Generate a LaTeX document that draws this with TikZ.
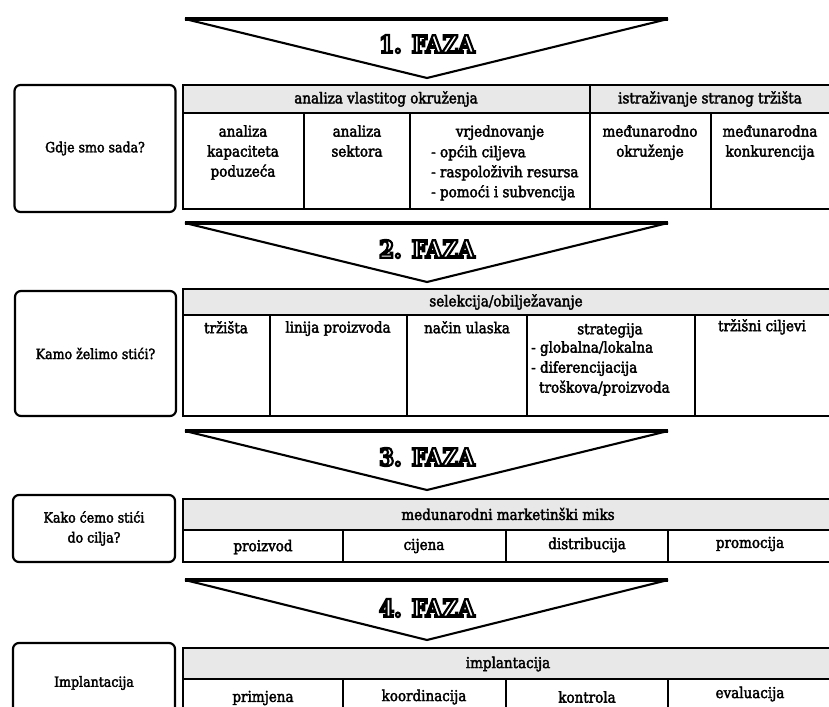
\documentclass[tikz,border=0pt]{standalone}
\usepackage{fontspec}
\setmainfont{DejaVu Serif Condensed}
\newfontfamily\cellfont{DejaVu Serif Condensed}[FakeBold=2.4]
\newfontfamily\fazafont{DejaVu Serif Condensed}[FakeBold=9]
\usetikzlibrary{positioning}
\newcommand{\celltxt}{\cellfont\fontsize{15}{20}\selectfont}
\newcommand{\asktxt}{\cellfont\fontsize{14}{20}\selectfont}
\newcommand{\fazatxt}{\fazafont\bfseries\fontsize{24}{24}\selectfont}
\newcommand{\fazaname}[1]{\textcolor{white}{\special{pdf:literal direct 0 0 0 RG}#1}}
\tikzset{askbox/.style={draw, line width=2.2pt, rounded corners=6pt, align=center, font=\asktxt, inner sep=0pt}}
\tikzset{tbl/.style={draw, line width=1.6pt}}
\tikzset{hdrrow/.style={draw, line width=1.6pt, fill=black!9}}
\tikzset{colline/.style={draw, line width=1.1pt}}
\tikzset{cell/.style={align=center, font=\celltxt, inner sep=0pt, anchor=north}}
\tikzset{lst/.style={align=left, font=\celltxt, inner sep=0pt, anchor=north west}}
\tikzset{hdr/.style={font=\celltxt, inner sep=0pt}}
\tikzset{fazatri/.style={draw, line width=2.1pt, line join=bevel, fill=white}}
\tikzset{fazatop/.style={draw, line width=4.5pt}}
\tikzset{fazalbl/.style={font=\fazatxt, inner sep=0pt}}
\begin{document}
\begin{tikzpicture}[x=1pt, y=-1pt]
	\useasboundingbox (0,0) rectangle (829,706);
	\clip (0,0) rectangle (829,706);
	%
	\draw[fazatri] (185,19) -- (668,19) -- (427,78) -- cycle;
	\draw[fazatop] (185,19) -- (668,19);
	\node[fazalbl] (faza1) at (427,44) {\fazaname{1. FAZA}};
	\node[askbox, minimum width=161pt, minimum height=127pt] (ask1) at (95,148.5) {Gdje smo sada?};
	\draw[hdrrow] (183,85) rectangle (840,113);
	\draw[tbl] (183,113) rectangle (840,209);
	\draw[colline] (590,85) -- (590,209);
	\draw[colline] (304,113) -- (304,209);
	\draw[colline] (410,113) -- (410,209);
	\draw[colline] (711,113) -- (711,209);
	\node[hdr] (h1a) at (386,99) {analiza vlastitog okruženja};
	\node[hdr] (h1b) at (710,99) {istraživanje stranog tržišta};
	\node[cell] (p1a) at (243,125) {analiza\\kapaciteta\\poduzeća};
	\node[cell] (p1b) at (357,125) {analiza\\sektora};
	\node[cell] (p1c) at (500,125) {vrjednovanje};
	\node[lst] (p1d) at (431,145) {- općih ciljeva\\- raspoloživih resursa\\- pomoći i subvencija};
	\node[cell] (p1e) at (650,125) {međunarodno\\okruženje};
	\node[cell] (p1f) at (770,125) {međunarodna\\konkurencija};
	%
	\draw[fazatri] (185,223) -- (668,223) -- (427,282) -- cycle;
	\draw[fazatop] (185,223) -- (668,223);
	\node[fazalbl] (faza2) at (427,249) {\fazaname{2. FAZA}};
	\node[askbox, minimum width=161pt, minimum height=125pt] (ask2) at (95.5,353.5) {Kamo želimo stići?};
	\draw[hdrrow] (183,289) rectangle (840,315);
	\draw[tbl] (183,315) rectangle (840,416);
	\draw[colline] (270,315) -- (270,416);
	\draw[colline] (407,315) -- (407,416);
	\draw[colline] (527,315) -- (527,416);
	\draw[colline] (695,315) -- (695,416);
	\node[hdr] (h2) at (506,302) {selekcija/obilježavanje};
	\node[cell] (p2a) at (226,321) {tržišta};
	\node[cell] (p2b) at (338,321) {linija proizvoda};
	\node[cell] (p2c) at (467,321) {način ulaska};
	\node[cell] (p2d) at (610,323) {strategija};
	\node[lst] (p2e) at (531,341) {- globalna/lokalna\\- diferencijacija\\\hspace*{8pt}troškova/proizvoda};
	\node[cell] (p2f) at (762,319) {tržišni ciljevi};
	%
	\draw[fazatri] (185,431) -- (668,431) -- (427,490) -- cycle;
	\draw[fazatop] (185,431) -- (668,431);
	\node[fazalbl] (faza3) at (427,457) {\fazaname{3. FAZA}};
	\node[askbox, minimum width=162pt, minimum height=67pt] (ask3) at (94,528.5) {Kako ćemo stići\\do cilja?};
	\draw[hdrrow] (183,499) rectangle (840,530);
	\draw[tbl] (183,530) rectangle (840,562);
	\draw[colline] (343,530) -- (343,562);
	\draw[colline] (506,530) -- (506,562);
	\draw[colline] (668,530) -- (668,562);
	\node[hdr] (h3) at (508,514) {medunarodni marketinški miks};
	\node[hdr] (p3a) at (263,547) {proizvod};
	\node[hdr] (p3b) at (424,546) {cijena};
	\node[hdr] (p3c) at (587,545) {distribucija};
	\node[hdr] (p3d) at (750,544) {promocija};
	%
	\draw[fazatri] (185,580) -- (668,580) -- (427,640) -- cycle;
	\draw[fazatop] (185,580) -- (668,580);
	\node[fazalbl] (faza4) at (427,608) {\fazaname{4. FAZA}};
	\node[askbox, minimum width=162pt, minimum height=80pt] (ask4) at (94,683) {Implantacija};
	\draw[hdrrow] (183,648) rectangle (840,679);
	\draw[tbl] (183,679) rectangle (840,730);
	\draw[colline] (343,679) -- (343,730);
	\draw[colline] (506,679) -- (506,730);
	\draw[colline] (668,679) -- (668,730);
	\node[hdr] (h4) at (508,664) {implantacija};
	\node[hdr] (p4a) at (263,698) {primjena};
	\node[hdr] (p4b) at (424,697) {koordinacija};
	\node[hdr] (p4c) at (587,697) {kontrola};
	\node[hdr] (p4d) at (750,694) {evaluacija};
\end{tikzpicture}
\end{document}
